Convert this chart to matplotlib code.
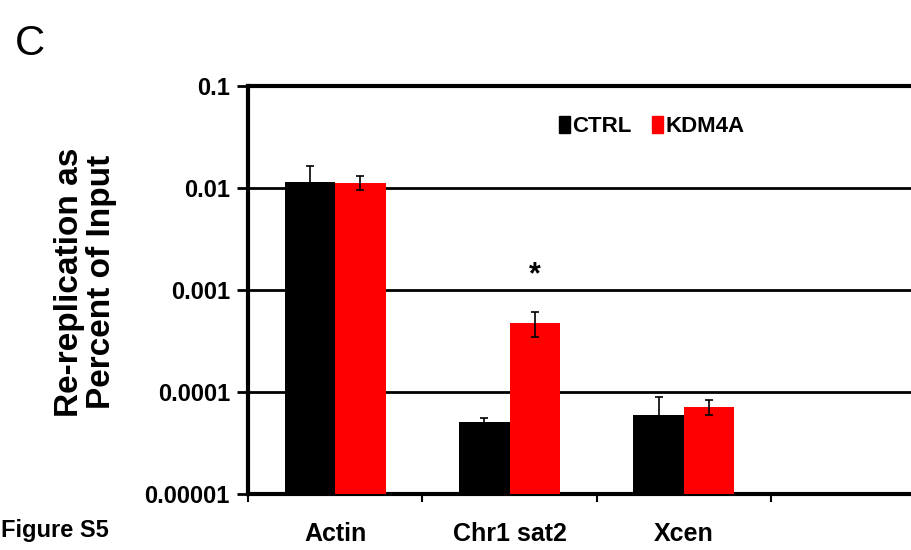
import matplotlib
matplotlib.use("Agg")
import matplotlib.pyplot as plt
import numpy as np
from matplotlib.patches import Patch

categories = ["Actin", "Chr1 sat2", "Xcen"]
ctrl = [0.0115, 5.1e-5, 5.95e-5]
ctrl_err = [0.0049, 0.4e-5, 3.0e-5]
kdm4a = [0.0113, 4.8e-4, 7.2e-5]
kdm4a_err = [0.0018, 1.35e-4, 1.2e-5]
series_names = ["CTRL", "KDM4A"]
yticks = [1e-5, 1e-4, 1e-3, 1e-2, 1e-1]
ytick_labels = ["0.00001", "0.0001", "0.001", "0.01", "0.1"]

FONT = ["Liberation Sans", "DejaVu Sans"]
plt.rcParams['font.family'] = FONT

fig = plt.figure(figsize=(9.12, 5.5), dpi=100)
ax = fig.add_axes([248/912, 56/550, 1 - 248/912 + 0.01, 408/550])

x = np.arange(len(categories))
w = 0.29
ax.bar(x - w/2, ctrl, w, color="black", zorder=3)
ax.bar(x + w/2, kdm4a, w, color="#ff0000", zorder=3)
ax.errorbar(x - w/2, ctrl, yerr=ctrl_err, fmt="none", ecolor="black",
            elinewidth=1.2, capsize=3, capthick=1.2, zorder=4)
ax.errorbar(x + w/2, kdm4a, yerr=kdm4a_err, fmt="none", ecolor="black",
            elinewidth=1.2, capsize=3, capthick=1.2, zorder=4)

ax.set_yscale("log")
ax.set_ylim(1e-5, 1e-1)
ax.set_xlim(-0.5, -0.5 + (912 - 248) / 172)
ax.set_yticks(yticks)
ax.set_yticklabels(ytick_labels)
ax.yaxis.set_minor_locator(matplotlib.ticker.NullLocator())
for yv in yticks[1:-1]:
    ax.axhline(yv, color="black", lw=2, zorder=1)

ax.set_xticks(x)
ax.set_xticklabels(categories)
ax.set_xticks(np.arange(len(categories) + 1) - 0.5, minor=True)
ax.tick_params(axis="x", which="major", length=0, pad=20, labelsize=18)
ax.tick_params(axis="x", which="minor", length=6, width=1.5, direction="out")
ax.tick_params(axis="y", which="major", length=8, width=2, direction="out", labelsize=17, pad=5)
for lab in ax.get_xticklabels() + ax.get_yticklabels():
    lab.set_fontweight("bold")

for s in ["left", "bottom", "top"]:
    ax.spines[s].set_linewidth(3)
ax.spines["right"].set_visible(False)

ax.set_ylabel("Re-replication as\nPercent of Input", fontsize=24, fontweight="bold",
              linespacing=1.05)
ax.yaxis.set_label_coords(-0.195, 0.52)

# significance marker
ax.text(x[1] + w/2, 1.38e-3, "*", ha="center", va="center", fontsize=22, fontweight="bold")

handles = [Patch(color="black"), Patch(color="#ff0000")]
ax.legend(handles, series_names, loc="center left", bbox_to_anchor=(0.462, 0.90), ncol=2,
          frameon=False, handlelength=0.5, handleheight=0.8, handletextpad=0.1,
          columnspacing=0.9, borderpad=0, borderaxespad=0,
          prop={"family": FONT, "weight": "bold", "size": 16})

fig.text(15/912, 1 - 44/550, "C", fontsize=30, va="center", ha="left")
fig.text(1/912, 1 - 531/550, "Figure S5", fontsize=17, fontweight="bold", va="center", ha="left")

fig.savefig("out.png", dpi=100)
